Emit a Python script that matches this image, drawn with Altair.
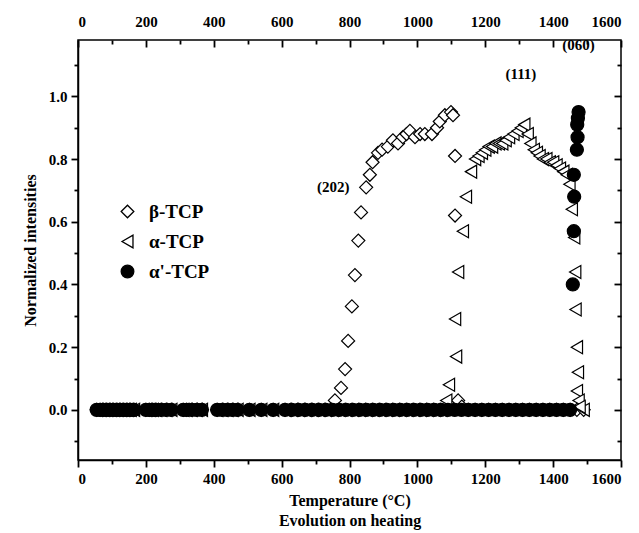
import altair as alt
import pandas as pd

series = ["β-TCP", "α-TCP", "α'-TCP"]

zero_T = [55, 65, 75, 85, 95, 105, 115, 125, 135, 145, 155, 165,
          200, 210, 220, 230, 245, 260, 275,
          310, 320, 335, 350, 365,
          410, 425, 440, 455, 470,
          505, 540, 575,
          610, 630, 650, 670, 690, 710, 730, 750, 770, 790, 810, 830, 850,
          870, 890, 910, 930, 950, 970, 990, 1010, 1030, 1050, 1070, 1090,
          1110, 1130, 1150, 1170, 1190, 1210, 1230, 1250, 1270, 1290, 1310,
          1330, 1350, 1370, 1390, 1410, 1430, 1450, 1470, 1490]

beta_T = [757, 775, 787, 796, 807, 816, 826, 834, 849, 860, 868, 884, 896,
          913, 928, 943, 957, 968, 978, 993, 1008, 1022, 1043, 1058, 1066,
          1081, 1099, 1105, 1111, 1111, 1120, 1131]
beta_I = [0.03, 0.07, 0.13, 0.22, 0.33, 0.43, 0.54, 0.63, 0.71, 0.75, 0.79,
          0.82, 0.83, 0.84, 0.86, 0.85, 0.87, 0.88, 0.89, 0.87, 0.88, 0.88,
          0.88, 0.90, 0.92, 0.94, 0.95, 0.94, 0.81, 0.62, 0.03, 0.01]

alpha_T = [1085, 1093, 1114, 1111, 1120, 1134, 1143, 1158, 1170, 1180, 1190,
           1200, 1210, 1220, 1230, 1240, 1250, 1260, 1270, 1283, 1295, 1305,
           1315, 1325, 1333, 1343, 1352, 1360, 1370, 1380, 1390, 1400, 1410,
           1420, 1430, 1440, 1448, 1455, 1462, 1465, 1466, 1470, 1473, 1470,
           1475, 1478]
alpha_I = [0.03, 0.08, 0.17, 0.29, 0.44, 0.57, 0.68, 0.76, 0.80, 0.81, 0.82,
           0.83, 0.84, 0.84, 0.85, 0.85, 0.85, 0.86, 0.87, 0.88, 0.89, 0.90,
           0.91, 0.88, 0.85, 0.83, 0.82, 0.81, 0.80, 0.80, 0.79, 0.79, 0.78,
           0.77, 0.76, 0.75, 0.72, 0.64, 0.55, 0.44, 0.32, 0.20, 0.12, 0.06,
           0.03, 0.01]

alphap_T = [1458, 1461, 1462, 1461, 1470, 1472, 1471, 1473, 1475]
alphap_I = [0.40, 0.57, 0.68, 0.75, 0.83, 0.87, 0.91, 0.93, 0.95]

peak_labels = ["(202)", "(111)", "(060)"]
peak_T = [752, 1305, 1475]
peak_I = [0.71, 1.07, 1.165]

rows = []
for t in zero_T:
    if t <= 740:
        rows.append((series[0], t, 0.0))
rows += [(series[0], t, v) for t, v in zip(beta_T, beta_I)]
for t in zero_T:
    if t >= 1140:
        rows.append((series[0], t, 0.0))
for t in zero_T:
    if t <= 1080 or t >= 1480:
        rows.append((series[1], t, 0.0))
rows += [(series[1], t, v) for t, v in zip(alpha_T, alpha_I)]
for t in zero_T:
    if t <= 1450:
        rows.append((series[2], t, 0.0))
rows += [(series[2], t, v) for t, v in zip(alphap_T, alphap_I)]
df = pd.DataFrame(rows, columns=["series", "T", "I"])

lab = pd.DataFrame({"label": peak_labels, "T": peak_T, "I": peak_I})

FONT = "Liberation Serif"
x_major = [0, 200, 400, 600, 800, 1000, 1200, 1400, 1600]
x_minor = [100, 300, 500, 700, 900, 1100, 1300, 1500]
y_major = [0.0, 0.2, 0.4, 0.6, 0.8, 1.0]
y_minor = [-0.1, 0.1, 0.3, 0.5, 0.7, 0.9, 1.1]

xscale = alt.Scale(domain=[0, 1600], nice=False, zero=False)
yscale = alt.Scale(domain=[-0.16, 1.18], nice=False, zero=False)

MAJ, MIN = 7, 4
TICK = dict(ticks=True, tickColor="black", tickOpacity=1, tickWidth=1.8)


def ghost(x_axis, y_axis):
    return alt.Chart(df).mark_point(opacity=0).encode(
        x=alt.X("T:Q", scale=xscale, axis=x_axis),
        y=alt.Y("I:Q", scale=yscale, axis=y_axis),
    )


frame_major = ghost(
    alt.Axis(values=x_major, orient="top", format="d", tickSize=MAJ,
             offset=-MAJ, domain=False, title=None, labelPadding=MAJ + 4, **TICK),
    alt.Axis(values=y_major, orient="right", labels=False, tickSize=MAJ,
             offset=-MAJ, domain=False, title=None, **TICK),
)
frame_minor = ghost(
    alt.Axis(values=x_minor, orient="top", labels=False, tickSize=MIN,
             offset=-MIN, domain=False, title=None, **TICK),
    alt.Axis(values=y_minor, orient="right", labels=False, tickSize=MIN,
             offset=-MIN, domain=False, title=None, **TICK),
)
frame_minor2 = ghost(
    alt.Axis(values=x_minor, orient="bottom", labels=False, tickSize=MIN,
             domain=False, title=None, **TICK),
    alt.Axis(values=y_minor, orient="left", labels=False, tickSize=MIN,
             domain=False, title=None, **TICK),
)

legend = alt.Legend(title=None, orient="none", legendX=40, legendY=162,
                    labelFont=FONT, labelFontWeight="bold", labelFontSize=19,
                    labelColor="black", symbolStrokeColor="black",
                    symbolStrokeWidth=1.3, symbolSize=160, rowPadding=10,
                    labelOffset=12, padding=0)

points = alt.Chart(df).mark_point(filled=True, strokeWidth=1.2,
                                  opacity=1, size=170).encode(
    x=alt.X("T:Q", scale=xscale,
            axis=alt.Axis(values=x_major, orient="bottom", format="d",
                          tickSize=MAJ, domainColor="black", domainWidth=1.5,
                          title=["Temperature (°C)", "Evolution on heating"],
                          titleLineHeight=20, titlePadding=6, labelPadding=4,
                          **TICK)),
    y=alt.Y("I:Q", scale=yscale,
            axis=alt.Axis(values=y_major, orient="left", format=".1f",
                          tickSize=MAJ, title="Normalized intensities",
                          domainColor="black", domainWidth=1.5,
                          titlePadding=10, labelPadding=4, **TICK)),
    shape=alt.Shape("series:N", scale=alt.Scale(domain=series,
                    range=["diamond", "triangle-left", "circle"]), legend=legend),
    fill=alt.Fill("series:N", scale=alt.Scale(domain=series,
                  range=["white", "white", "black"]), legend=legend),
    stroke=alt.Stroke("series:N", scale=alt.Scale(domain=series,
                      range=["black", "black", "black"]), legend=legend),
)

texts = alt.Chart(lab).mark_text(font=FONT, fontWeight="bold", fontSize=15,
                                 color="black").encode(
    x=alt.X("T:Q", scale=xscale, axis=None),
    y=alt.Y("I:Q", scale=yscale, axis=None),
    text="label:N",
)

chart = alt.layer(frame_major, frame_minor, frame_minor2, points, texts).resolve_axis(
    x="independent", y="independent"
).properties(
    width=543, height=420,
    padding={"left": 70, "top": 32, "right": 10, "bottom": 80},
    autosize=alt.AutoSizeParams(type="none"),
    background="white",
).configure_view(stroke="black", strokeWidth=1.5).configure_axis(
    grid=False, labelFont=FONT, labelFontWeight="bold", labelFontSize=15,
    labelColor="black", titleFont=FONT, titleFontWeight="bold",
    titleFontSize=16, titleColor="black",
)

chart.save("out.html", embed_options={"renderer": "svg", "actions": False})
